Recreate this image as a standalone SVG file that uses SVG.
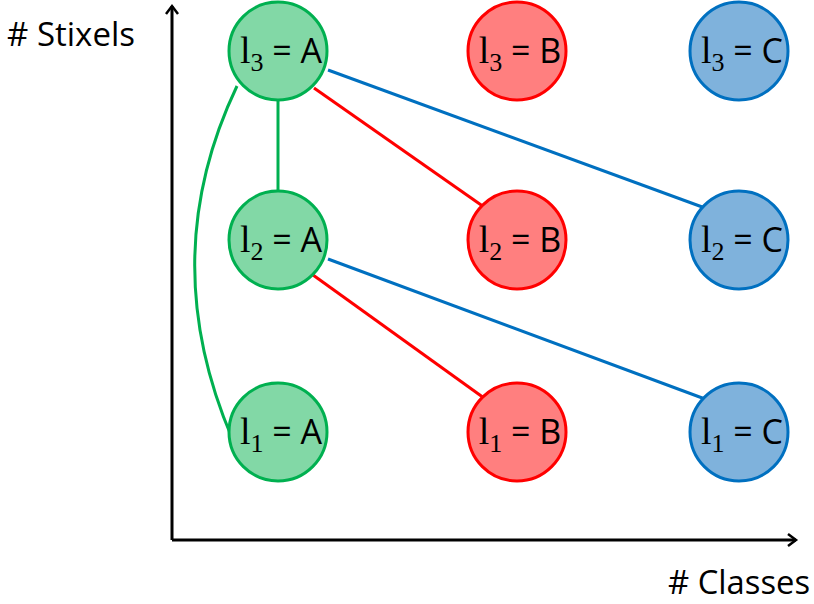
<svg xmlns="http://www.w3.org/2000/svg" width="814" height="604" viewBox="0 0 814 604">
<defs>
<marker id="ah" markerWidth="14" markerHeight="14" refX="10" refY="7" orient="auto" markerUnits="userSpaceOnUse">
<path d="M2,1 L10,7 L2,13" fill="none" stroke="#000" stroke-width="2.5"/>
</marker>
<style>
.g{fill:#82D8A6;stroke:#00B050;stroke-width:3}
.r{fill:#FF7F7F;stroke:#FF0000;stroke-width:3}
.b{fill:#7FB2DC;stroke:#0070C0;stroke-width:3}
.t{font-family:"Open Sans","Liberation Sans",sans-serif;font-size:34px;fill:#000;text-anchor:middle}
.l{font-family:"Liberation Serif",serif;font-size:38px}
.s{font-family:"Liberation Serif",serif;font-size:26px}
.ax{font-family:"Open Sans","Liberation Sans",sans-serif;font-size:32px;fill:#000}
.cg{stroke:#00B050;stroke-width:3;fill:none}
.cr{stroke:#FF0000;stroke-width:3;fill:none}
.cb{stroke:#0070C0;stroke-width:3;fill:none}
</style>
</defs>
<g id="axes">
<line x1="172" y1="540" x2="172" y2="6" stroke="#000" stroke-width="3" marker-end="url(#ah)"/>
<line x1="172" y1="540" x2="796" y2="540" stroke="#000" stroke-width="3" marker-end="url(#ah)"/>
<text class="ax" x="7" y="46" textLength="128" lengthAdjust="spacingAndGlyphs">#  Stixels</text>
<text class="ax" x="668" y="594" textLength="142" lengthAdjust="spacingAndGlyphs">#  Classes</text>
</g>
<g id="connectors">
<line class="cg" x1="278" y1="101" x2="278" y2="191"/>
<path class="cg" d="M237,86 Q155,258 232,438"/>
<line class="cr" x1="314" y1="88" x2="484" y2="207"/>
<line class="cr" x1="313" y1="275" x2="484" y2="398"/>
<line class="cb" x1="328" y1="70" x2="705" y2="208"/>
<line class="cb" x1="328" y1="259" x2="705" y2="399"/>
</g>
<g id="n3A"><circle class="g" cx="278" cy="51" r="49"/><text class="t" x="281" y="63"><tspan class="l">l</tspan><tspan class="s" dy="8">3</tspan><tspan dy="-8"> = A</tspan></text></g>
<g id="n3B"><circle class="r" cx="517" cy="51" r="49"/><text class="t" x="520" y="63"><tspan class="l">l</tspan><tspan class="s" dy="8">3</tspan><tspan dy="-8"> = B</tspan></text></g>
<g id="n3C"><circle class="b" cx="739" cy="51" r="49"/><text class="t" x="742" y="63"><tspan class="l">l</tspan><tspan class="s" dy="8">3</tspan><tspan dy="-8"> = C</tspan></text></g>
<g id="n2A"><circle class="g" cx="278" cy="240" r="49"/><text class="t" x="281" y="252"><tspan class="l">l</tspan><tspan class="s" dy="8">2</tspan><tspan dy="-8"> = A</tspan></text></g>
<g id="n2B"><circle class="r" cx="517" cy="240" r="49"/><text class="t" x="520" y="252"><tspan class="l">l</tspan><tspan class="s" dy="8">2</tspan><tspan dy="-8"> = B</tspan></text></g>
<g id="n2C"><circle class="b" cx="739" cy="240" r="49"/><text class="t" x="742" y="252"><tspan class="l">l</tspan><tspan class="s" dy="8">2</tspan><tspan dy="-8"> = C</tspan></text></g>
<g id="n1A"><circle class="g" cx="278" cy="432" r="49"/><text class="t" x="281" y="444"><tspan class="l">l</tspan><tspan class="s" dy="8">1</tspan><tspan dy="-8"> = A</tspan></text></g>
<g id="n1B"><circle class="r" cx="517" cy="432" r="49"/><text class="t" x="520" y="444"><tspan class="l">l</tspan><tspan class="s" dy="8">1</tspan><tspan dy="-8"> = B</tspan></text></g>
<g id="n1C"><circle class="b" cx="739" cy="432" r="49"/><text class="t" x="742" y="444"><tspan class="l">l</tspan><tspan class="s" dy="8">1</tspan><tspan dy="-8"> = C</tspan></text></g>
</svg>
